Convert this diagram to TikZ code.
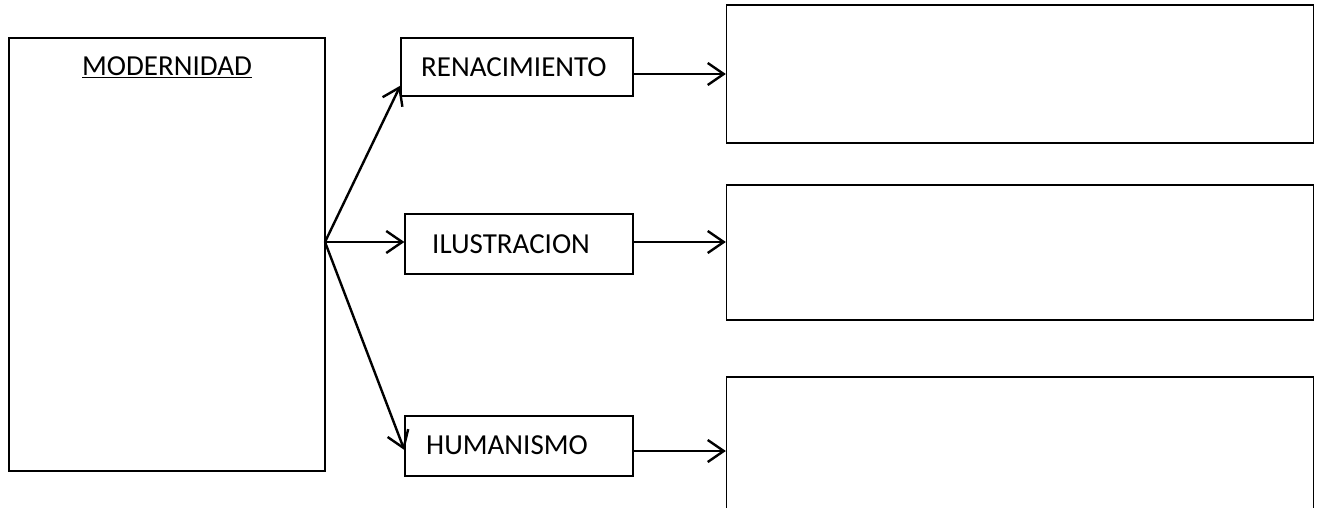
\documentclass[tikz,border=0pt]{standalone}
\usepackage{fontspec}
\setmainfont{Carlito}
\usetikzlibrary{arrows.meta}
\begin{document}
\begin{tikzpicture}[x=1pt,y=-1pt,
  box/.style={draw=black,line width=1.3pt,inner sep=0pt},
  lbl/.style={inner sep=0pt,anchor=base west,font=\fontsize{29}{34}\selectfont},
  arr/.style={line width=2.4pt,-{Straight Barb[length=16pt,width=22pt,line width=2.4pt]}}]
\useasboundingbox (0,0) rectangle (1319,508);
\clip (0,0) rectangle (1319,508);
% left box
\node[box,minimum width=316pt,minimum height=433pt] (mod) at (167,254.5) {};
\node[lbl,anchor=base] (modt) at (167,76) {\underline{MODERNIDAD}};
% middle boxes
\node[box,minimum width=232pt,minimum height=58pt] (ren) at (517,67) {};
\node[lbl] (rent) at (421,77) {RENACIMIENTO};
\node[box,minimum width=228pt,minimum height=60pt] (ilu) at (519,244) {};
\node[lbl] (ilut) at (432,253) {ILUSTRACION};
\node[box,minimum width=228pt,minimum height=60pt] (hum) at (519,446) {};
\node[lbl] (humt) at (426,454) {HUMANISMO};
% right boxes
\node[box,minimum width=587pt,minimum height=138pt] (r1) at (1020,74) {};
\node[box,minimum width=587pt,minimum height=135pt] (r2) at (1020,252.5) {};
\node[box,minimum width=587pt,minimum height=180pt] (r3) at (1020,467) {};
% connectors
\coordinate (fork) at (325,242);
\draw[arr] (fork) -- ([yshift=11pt]ren.south west);
\draw[arr] (fork) -- (ilu.west |- fork);
\draw[arr] (fork) -- ([yshift=-4pt]hum.west);
\draw[arr] (ren.east |- 0,74) -- (r1.west |- 0,74);
\draw[arr] (ilu.east |- 0,242) -- (r2.west |- 0,242);
\draw[arr] (hum.east |- 0,451) -- (r3.west |- 0,451);
\end{tikzpicture}
\end{document}
